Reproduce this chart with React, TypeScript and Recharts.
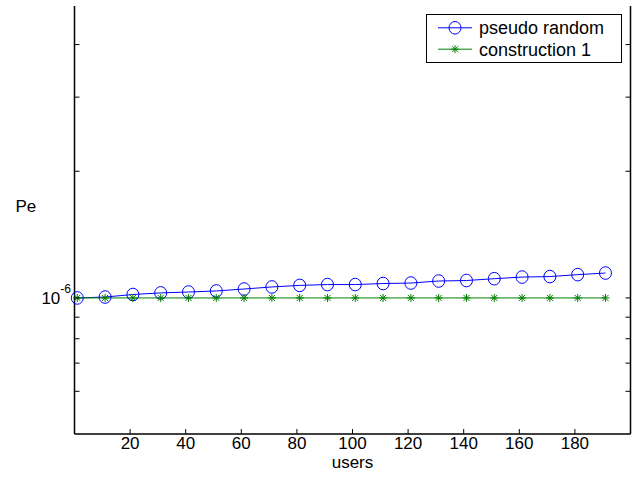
import React from 'react';
import { LineChart, Line, XAxis, YAxis, Legend } from 'recharts';

const users = [1, 11, 21, 31, 41, 51, 61, 71, 81, 91, 101, 111, 121, 131, 141, 151, 161, 171, 181, 191];
const pseudoRandom = [
  1.0e-6, 1.005e-6, 1.019e-6, 1.028e-6, 1.033e-6, 1.039e-6, 1.05e-6, 1.062e-6, 1.071e-6, 1.076e-6,
  1.076e-6, 1.082e-6, 1.085e-6, 1.097e-6, 1.1e-6, 1.111e-6, 1.121e-6, 1.124e-6, 1.136e-6, 1.146e-6,
];
const construction1 = [
  1e-6, 1e-6, 1e-6, 1e-6, 1e-6, 1e-6, 1e-6, 1e-6, 1e-6, 1e-6,
  1e-6, 1e-6, 1e-6, 1e-6, 1e-6, 1e-6, 1e-6, 1e-6, 1e-6, 1e-6,
];
const xTicks = [20, 40, 60, 80, 100, 120, 140, 160, 180];
const yTicks = [6e-7, 7e-7, 8e-7, 9e-7, 1e-6, 2e-6, 3e-6, 4e-6];
const seriesNames = ['pseudo random', 'construction 1'];

const data = users.map((u, i) => ({ users: u, pseudo: pseudoRandom[i], cons: construction1[i] }));

const FONT = '"Liberation Sans", Arial, Helvetica, sans-serif';
const BLUE = '#0000ff';
const GREEN = '#008000';
const TICK = 5;

const BottomTick = (props: any) => {
  const { x, y, payload } = props;
  return (
    <g>
      <line x1={x} x2={x} y1={y} y2={y - TICK} stroke="#000" strokeWidth={1} />
      <text x={x} y={y + 14.5} textAnchor="middle" fontFamily={FONT} fontSize={17} fill="#000">
        {payload.value}
      </text>
    </g>
  );
};

const TopTick = (props: any) => {
  const { x, y } = props;
  return <line x1={x} x2={x} y1={y} y2={y + TICK} stroke="#000" strokeWidth={1} />;
};

const LeftTick = (props: any) => {
  const { x, y, payload } = props;
  const isMain = Math.abs(payload.value - 1e-6) < 1e-12;
  return (
    <g>
      <line x1={x} x2={x + TICK} y1={y} y2={y} stroke="#000" strokeWidth={1} />
      {isMain && (
        <text x={x - 3.5} y={y + 5.6} textAnchor="end" fontFamily={FONT} fontSize={17} fill="#000">
          10
          <tspan dy={-10.5} fontSize={12}>-6</tspan>
        </text>
      )}
    </g>
  );
};

const RightTick = (props: any) => {
  const { x, y } = props;
  return <line x1={x} x2={x - TICK} y1={y} y2={y} stroke="#000" strokeWidth={1} />;
};

const Circle = (props: any) => {
  const { cx, cy, index } = props;
  if (cx == null || cy == null) return <g key={`c${index}`} />;
  return <ellipse key={`c${index}`} cx={cx} cy={cy} rx={6} ry={6.3} fill="none" stroke={BLUE} strokeWidth={1} />;
};

const Star = ({ cx, cy, color, k }: any) => {
  const s = 4;
  const d = 3;
  return (
    <g key={k} stroke={color} strokeWidth={1}>
      <line x1={cx} x2={cx} y1={cy - s} y2={cy + s} />
      <line x1={cx - d} x2={cx + d} y1={cy - d} y2={cy + d} />
      <line x1={cx - d} x2={cx + d} y1={cy + d} y2={cy - d} />
      <line x1={cx - s} x2={cx + s} y1={cy} y2={cy} />
    </g>
  );
};

const StarDot = (props: any) => {
  const { cx, cy, index } = props;
  if (cx == null || cy == null) return <g key={`s${index}`} />;
  return <Star key={`s${index}`} k={`s${index}`} cx={cx} cy={cy} color={GREEN} />;
};

const renderLegend = (props: any) => {
  const payload = (props && props.payload) || [];
  const items = seriesNames.map((name, i) => {
    const p = payload.find((e: any) => e.value === name);
    return { name, color: p && p.color ? p.color : i === 0 ? BLUE : GREEN };
  });
  return (
    <svg width={197} height={50} style={{ display: 'block' }}>
      <rect x={0.5} y={0.5} width={195} height={48} fill="#fff" stroke="#000" strokeWidth={1} />
      {items.map((it, i) => {
        const cy = i === 0 ? 13.8 : 35.2;
        return (
          <g key={it.name}>
            <line x1={12} x2={46} y1={cy} y2={cy} stroke={it.color} strokeWidth={1} />
            {i === 0 ? (
              <ellipse cx={29} cy={cy} rx={6} ry={6.3} fill="none" stroke={it.color} strokeWidth={1} />
            ) : (
              <Star cx={29} cy={cy} color={it.color} k="ls" />
            )}
            <text x={53} y={cy + 6.3} fontFamily={FONT} fontSize={18} fill="#000">
              {it.name}
            </text>
          </g>
        );
      })}
    </svg>
  );
};

export default function App() {
  return (
    <div style={{ position: 'absolute', left: 0, top: 0, width: 642, height: 477, background: '#fff' }}>
      <LineChart width={642} height={477} data={data} margin={{ top: 6, right: 0, bottom: 0, left: 0 }}>
        <XAxis
          xAxisId="b"
          dataKey="users"
          type="number"
          domain={[0, 200]}
          ticks={xTicks}
          orientation="bottom"
          height={43}
          tickSize={0}
          tickMargin={0}
          tickLine={false}
          tick={<BottomTick />}
          axisLine={{ stroke: '#000', strokeWidth: 1.5 }}
          interval={0}
          label={{ value: 'users', position: 'insideBottom', offset: 9, fontFamily: FONT, fontSize: 17, fill: '#000' }}
        />
        <XAxis
          xAxisId="t"
          dataKey="users"
          type="number"
          domain={[0, 200]}
          ticks={xTicks}
          orientation="top"
          height={0}
          tickSize={0}
          tickMargin={0}
          tickLine={false}
          tick={<TopTick />}
          axisLine={{ stroke: '#000', strokeWidth: 1.5 }}
          interval={0}
        />
        <YAxis
          yAxisId="l"
          type="number"
          scale="log"
          domain={[4.75e-7, 4.94e-6]}
          allowDataOverflow
          ticks={yTicks}
          orientation="left"
          width={74.5}
          tickSize={0}
          tickMargin={0}
          tickLine={false}
          tick={<LeftTick />}
          axisLine={{ stroke: '#000', strokeWidth: 1.5 }}
          interval={0}
          label={{ value: 'Pe', position: 'insideLeft', offset: 15.5, dy: -14, fontFamily: FONT, fontSize: 17, fill: '#000' }}
        />
        <YAxis
          yAxisId="r"
          type="number"
          scale="log"
          domain={[4.75e-7, 4.94e-6]}
          allowDataOverflow
          ticks={yTicks}
          orientation="right"
          width={11.5}
          tickSize={0}
          tickMargin={0}
          tickLine={false}
          tick={<RightTick />}
          axisLine={{ stroke: '#000', strokeWidth: 1.5 }}
          interval={0}
        />
        <Legend
          layout="horizontal"
          verticalAlign="middle"
          align="center"
          content={renderLegend}
          wrapperStyle={{ position: 'absolute', left: 426, top: 14, width: 197, height: 50, margin: 0, padding: 0 }}
        />
        <Line
          xAxisId="b"
          yAxisId="l"
          name={seriesNames[0]}
          dataKey="pseudo"
          stroke={BLUE}
          strokeWidth={1}
          dot={Circle}
          activeDot={false}
          isAnimationActive={false}
        />
        <Line
          xAxisId="b"
          yAxisId="l"
          name={seriesNames[1]}
          dataKey="cons"
          stroke={GREEN}
          strokeWidth={1}
          dot={StarDot}
          activeDot={false}
          isAnimationActive={false}
        />
      </LineChart>
    </div>
  );
}
